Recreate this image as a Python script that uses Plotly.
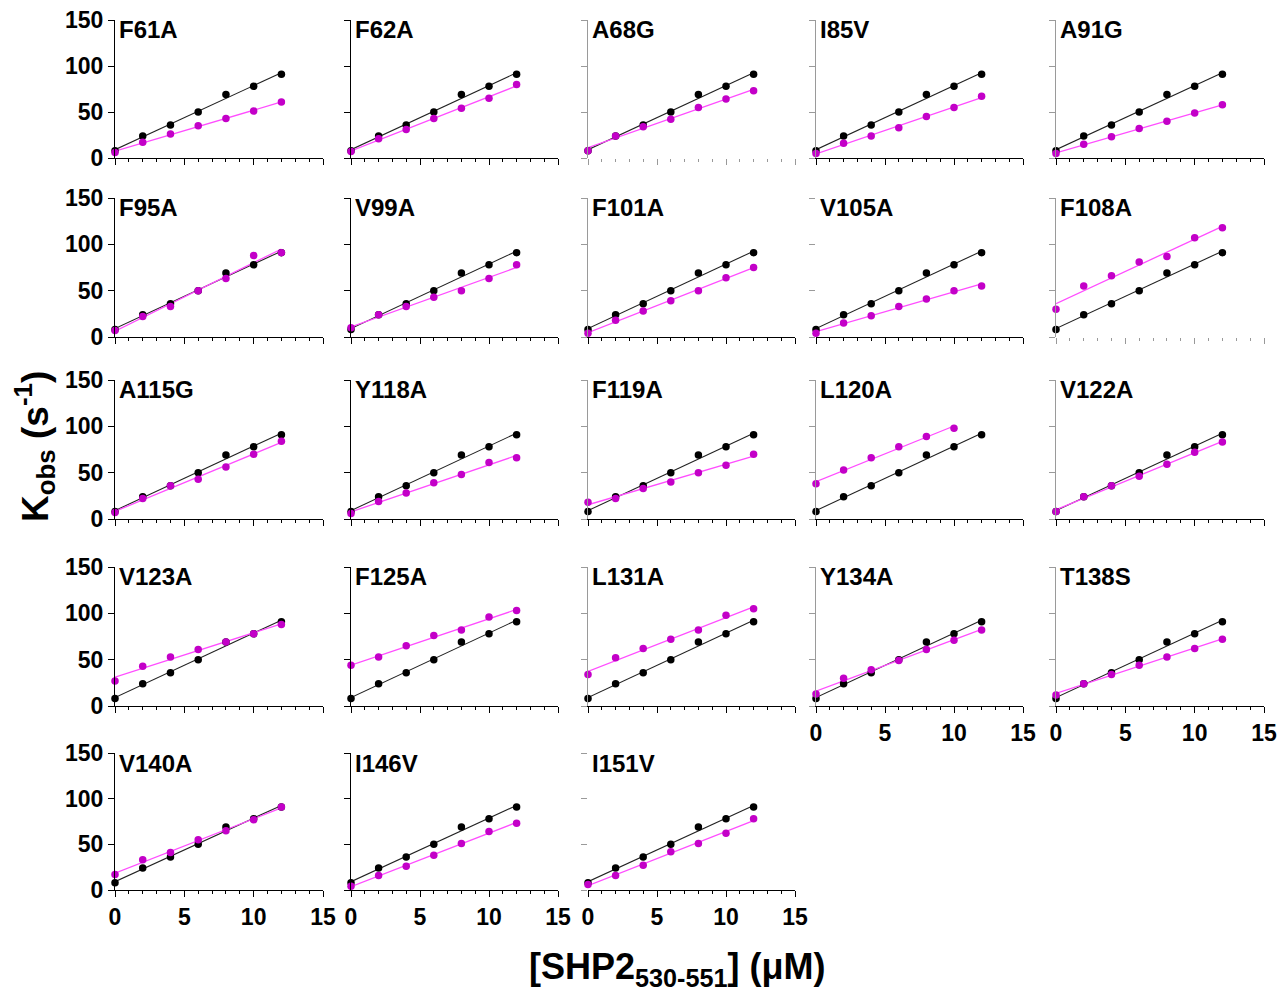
import numpy as np
import plotly.graph_objects as go

# ---------------- data ----------------
conc = [0, 2, 4, 6, 8, 10, 12]          # [SHP2 530-551] (uM)
conc_L120A = [0, 2, 4, 6, 8, 10]

wild_type = [8, 24, 36, 50, 69, 78, 91]

F61A = [6, 17, 26, 35, 43, 51, 61]
F62A = [7, 21, 31, 43, 54, 65, 80]
A68G = [8, 24, 34, 42, 55, 64, 73]
I85V = [5, 16, 24, 33, 45, 55, 67]
A91G = [5, 15, 23, 32, 40, 49, 58]
F95A = [7, 22, 33, 50, 63, 88, 91]
V99A = [10, 24, 33, 43, 50, 63, 78]
F101A = [4, 18, 28, 39, 50, 64, 75]
V105A = [4, 15, 23, 33, 41, 50, 55]
F108A = [30, 55, 66, 81, 87, 107, 118]
A115G = [7, 22, 36, 43, 56, 70, 84]
Y118A = [6, 19, 28, 39, 48, 61, 66]
F119A = [18, 22, 33, 40, 50, 58, 70]
L120A = [38, 53, 66, 78, 89, 98]
V122A = [8, 24, 36, 46, 59, 72, 83]
V123A = [27, 43, 53, 61, 69, 78, 88]
F125A = [44, 53, 65, 76, 82, 96, 103]
L131A = [34, 52, 62, 72, 82, 98, 105]
Y134A = [13, 30, 39, 49, 61, 71, 82]
T138S = [12, 24, 34, 44, 53, 62, 72]
V140A = [17, 33, 41, 55, 65, 77, 91]
I146V = [4, 16, 26, 38, 51, 64, 73]
I151V = [6, 16, 27, 42, 51, 62, 78]

mutant_names = ["F61A", "F62A", "A68G", "I85V", "A91G",
                "F95A", "V99A", "F101A", "V105A", "F108A",
                "A115G", "Y118A", "F119A", "L120A", "V122A",
                "V123A", "F125A", "L131A", "Y134A", "T138S",
                "V140A", "I146V", "I151V"]
mutant_values = [F61A, F62A, A68G, I85V, A91G, F95A, V99A, F101A, V105A, F108A,
                 A115G, Y118A, F119A, L120A, V122A, V123A, F125A, L131A, Y134A,
                 T138S, V140A, I146V, I151V]

y_ticks = [0, 50, 100, 150]
x_ticks = [0, 5, 10, 15]

# ---------------- layout geometry (screen pixels) ----------------
W, H = 1288, 994
OFF = 8   # page body margin offset
col_px = [(115, 323), (351, 558), (588, 795), (816, 1023), (1056, 1264)]
row_px = [(20, 158), (198, 337), (380, 519), (567, 706), (753, 890)]


def px_x(p):
    return (p - OFF) / W


def px_y(p):
    return 1 - (p - OFF) / H


FONT = "Liberation Sans, Arial, sans-serif"
MAG_MARK = "#c300c8"
MAG_LINE = "#ff4dff"

fig = go.Figure()
layout = dict(
    width=W, height=H,
    margin=dict(l=0, r=0, t=0, b=0, pad=0, autoexpand=False),
    paper_bgcolor="white", plot_bgcolor="white",
    showlegend=False,
    font=dict(family=FONT, color="black"),
    annotations=[],
)


def fit_line(xs, ys):
    m, b = np.polyfit(np.asarray(xs, float), np.asarray(ys, float), 1)
    xx = np.array([xs[0], xs[-1]], float)
    return xx, m * xx + b


for i, (name, vals) in enumerate(zip(mutant_names, mutant_values)):
    r, c = divmod(i, 5)
    k = "" if i == 0 else str(i + 1)
    xa, ya = "x" + k, "y" + k
    xs = conc_L120A if name == "L120A" else conc

    # fit lines
    fx, fy = fit_line(conc, wild_type)
    fig.add_trace(go.Scatter(x=fx, y=fy, mode="lines", xaxis=xa, yaxis=ya,
                             line=dict(color="#222222", width=1.1), hoverinfo="skip"))
    mx, my = fit_line(xs, vals)
    fig.add_trace(go.Scatter(x=mx, y=my, mode="lines", xaxis=xa, yaxis=ya,
                             line=dict(color=MAG_LINE, width=1.3), hoverinfo="skip"))
    # points
    fig.add_trace(go.Scatter(x=conc, y=wild_type, mode="markers", xaxis=xa, yaxis=ya,
                             marker=dict(color="black", size=7.5), cliponaxis=False))
    fig.add_trace(go.Scatter(x=xs, y=vals, mode="markers", xaxis=xa, yaxis=ya,
                             marker=dict(color=MAG_MARK, size=7.5), cliponaxis=False))

    x0, x1 = col_px[c]
    t0, b0 = row_px[r]
    bottom_labels = (i >= 18)
    xline = i not in (2, 9)
    xaxis = dict(
        domain=[px_x(x0), px_x(x1)], anchor=ya, range=[0, 15], automargin=False,
        showgrid=False, zeroline=False,
        showline=xline, linecolor="black", linewidth=1.3,
        tickmode="array", tickvals=x_ticks, ticks="outside", ticklen=6,
        tickwidth=1.2, tickcolor="black" if xline else "#999999",
        minor=dict(dtick=1, ticks="outside", ticklen=3,
                   tickcolor="black" if xline else "#999999", tickwidth=1),
        showticklabels=bottom_labels, ticklabeloverflow="allow",
        tickfont=dict(family=FONT, size=23, weight="bold", color="black"),
        fixedrange=True,
    )
    ycol = "black" if c < 2 else "#9a9a9a"
    yline = i not in (8, 22)
    yaxis = dict(
        domain=[px_y(b0), px_y(t0)], anchor=xa, range=[0, 150], automargin=False,
        showgrid=False, zeroline=False,
        showline=yline, linecolor=ycol, linewidth=1.3,
        tickmode="array", tickvals=y_ticks, ticks="outside", ticklen=6,
        tickwidth=1.2, tickcolor=ycol if c > 0 else "black",
        showticklabels=(c == 0), ticklabeloverflow="allow",
        tickfont=dict(family=FONT, size=23, weight="bold", color="black"),
        fixedrange=True,
    )
    layout["xaxis" + k] = xaxis
    layout["yaxis" + k] = yaxis
    layout["annotations"].append(dict(
        text="<b>%s</b>" % name, xref=xa + " domain", yref=ya + " domain",
        x=0.01, y=1.04, xanchor="left", yanchor="top", showarrow=False,
        font=dict(family=FONT, size=24, color="black"),
    ))

layout["annotations"].append(dict(
    text="<b>K<sub>obs</sub> (s<sup>-1</sup>)</b>", xref="paper", yref="paper",
    x=px_x(35), y=px_y(447), xanchor="center", yanchor="middle", textangle=-90,
    showarrow=False, font=dict(family=FONT, size=37, color="black"),
))
layout["annotations"].append(dict(
    text="<b>[SHP2<sub>530-551</sub>] (μM)</b>", xref="paper", yref="paper",
    x=px_x(677), y=px_y(969), xanchor="center", yanchor="middle",
    showarrow=False, font=dict(family=FONT, size=36, color="black"),
))

fig.update_layout(**layout)
fig.write_html("out.html")
